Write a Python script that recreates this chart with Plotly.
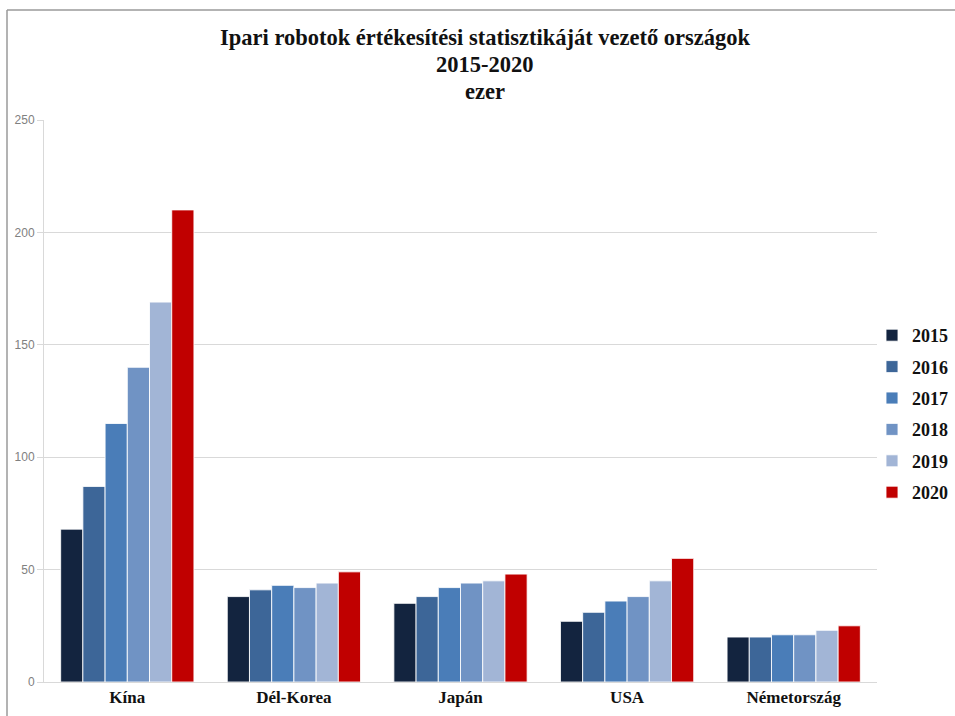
import plotly.graph_objects as go

countries = ["Kína", "Dél-Korea", "Japán", "USA", "Németország"]
years = ["2015", "2016", "2017", "2018", "2019", "2020"]
values = {
    "2015": [68, 38, 35, 27, 20],
    "2016": [87, 41, 38, 31, 20],
    "2017": [115, 43, 42, 36, 21],
    "2018": [140, 42, 44, 38, 21],
    "2019": [169, 44, 45, 45, 23],
    "2020": [210, 49, 48, 55, 25],
}
colors = ["#13243F", "#3D6698", "#4A7DB8", "#7093C4", "#A2B5D6", "#C00000"]
title_lines = ["Ipari robotok értékesítési statisztikáját vezető országok", "2015-2020", "ezer"]
y_ticks = [0, 50, 100, 150, 200, 250]

W, H = 955, 716
L, R, T, B = 44, 78, 120, 34
pw, ph = W - L - R, H - T - B

def px(x):
    return (x - L) / pw

def py(y):
    return (H - B - y) / ph

fig = go.Figure()
for yr, col in zip(years, colors):
    fig.add_trace(go.Bar(
        x=countries, y=values[yr], name=yr, legendgroup=yr,
        marker=dict(color=col, line=dict(color="rgba(255,255,255,0.85)", width=1)),
    ))

serif = "Liberation Serif"
annos = []
for t, yy in zip(title_lines, [37, 65, 92]):
    annos.append(dict(text=t, x=px(485), y=py(yy), xref="paper", yref="paper",
                      xanchor="center", yanchor="middle", showarrow=False,
                      font=dict(family=serif, size=22.5, color="#111", weight="bold")))

fig.update_layout(
    width=W, height=H,
    margin=dict(l=L, r=R, t=T, b=B, autoexpand=False),
    paper_bgcolor="white", plot_bgcolor="white",
    barmode="group", bargap=0.2, bargroupgap=0,
    annotations=annos,
    showlegend=True,
    legend=dict(x=px(872), y=py(317), xanchor="left", yanchor="top",
                font=dict(family=serif, size=18, color="#111", weight="bold"),
                tracegroupgap=5, itemwidth=30, bgcolor="rgba(0,0,0,0)"),
    shapes=[
        dict(type="line", xref="paper", yref="paper", x0=px(7), x1=px(7), y0=py(10), y1=py(716),
             line=dict(color="#9A9A9A", width=1.5)),
        dict(type="line", xref="paper", yref="paper", x0=px(7), x1=px(955), y0=py(10), y1=py(10),
             line=dict(color="#9A9A9A", width=1.5)),
    ],
    xaxis=dict(showline=True, linecolor="#D9D9D9", linewidth=1, ticks="",
               tickfont=dict(family=serif, size=17, color="#111", weight="bold"),
               showgrid=False),
    yaxis=dict(range=[0, 250], tickvals=y_ticks, showgrid=True, gridcolor="#D9D9D9", gridwidth=1,
               showline=True, linecolor="#D9D9D9", ticks="outside", ticklen=6, tickcolor="#D9D9D9",
               tickfont=dict(family="Liberation Sans", size=12, color="#808080"), zeroline=False),
)
fig.write_html("out.html")
